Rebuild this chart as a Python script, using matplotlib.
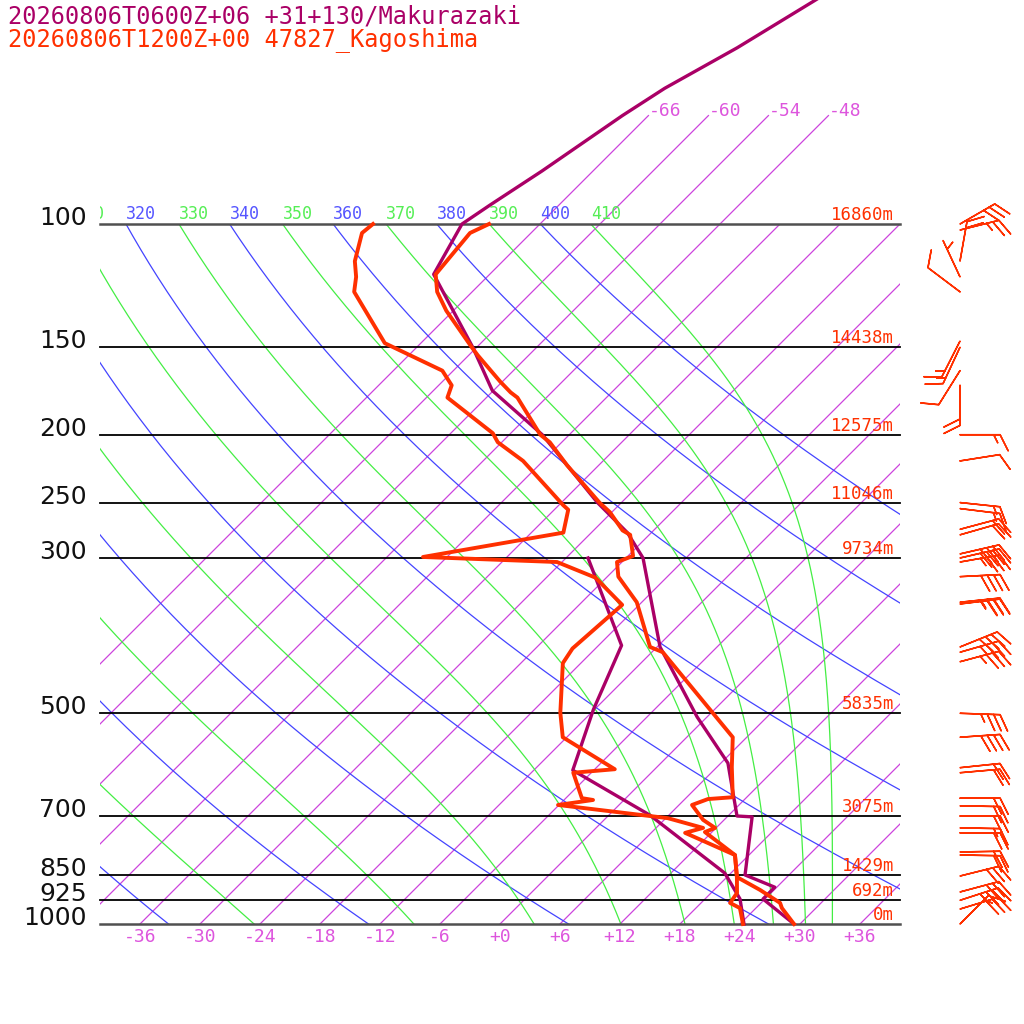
import numpy as np
import matplotlib
matplotlib.use("Agg")
import matplotlib.pyplot as plt
from matplotlib.transforms import Bbox, TransformedBbox

# ---------------- data ----------------
title_fcst = "20260806T0600Z+06 +31+130/Makurazaki"
title_obs = "20260806T1200Z+00 47827_Kagoshima"

isobar_levels = [100, 150, 200, 250, 300, 500, 700, 850, 925, 1000]
isobar_labels = ["100", "150", "200", "250", "300", "500", "700", "850", "925", "1000"]
isobar_heights = ["16860m", "14438m", "12575m", "11046m", "9734m",
                  "5835m", "3075m", "1429m", "692m", "0m"]
isotherm_values = list(range(-66, 37, 6))
isotherm_labeled = [-66, -60, -54, -48]
bottom_tick_temps = list(range(-36, 37, 6))
theta_values = [240, 260, 280, 300, 320, 340, 360, 380, 400]
thetae_values = [250, 270, 290, 310, 330, 350, 370, 390, 410]

# observed sounding (Kagoshima)
obs_t_p = [1000, 949, 933, 894, 857, 797, 739, 729, 710, 676, 663, 659, 597, 541,
           409, 402, 347, 319, 304, 298, 278, 274, 258, 250, 221, 205, 200, 177,
           174, 168, 154, 150, 133, 125, 118, 103, 100]
obs_t = [29.4, 26.6, 25.9, 22.6, 19.0, 16.6, 11.3, 11.9, 9.9, 7.3, 8.3, 10.6, 7.5, 4.6,
         -10.9, -12.7, -18.5, -22.9, -24.5, -23.5, -25.9, -27.1, -30.2, -32.2, -39.2,
         -43.2, -44.9, -50.9, -52.1, -54.2, -59.1, -60.5, -66.7, -69.5, -71.4, -72.1, -71.1]
obs_td_p = [1000, 949, 933, 903, 857, 797, 741, 729, 706, 676, 665, 661, 608, 601, 541,
            499, 424, 404, 350, 320, 304, 299, 276, 256, 252, 218, 205, 199, 177, 170,
            162, 148, 125, 119, 113, 103, 100]
obs_td = [24.3, 22.4, 20.9, 20.6, 19.0, 16.6, 9.4, 10.7, 6.2, -6.1, -3.1, -4.4, -7.8, -4.0,
          -12.4, -15.1, -19.8, -20.3, -19.7, -25.1, -30.5, -44.4, -32.8, -34.6, -35.6,
          -44.0, -48.4, -49.8, -57.9, -58.7, -61.1, -69.6, -77.8, -79.1, -80.8, -82.9, -82.7]

# forecast sounding (Makurazaki)
fcst_t_p = [1000, 921, 886, 851, 703, 701, 589, 506, 402, 300, 276, 250, 200, 173, 150,
            118, 100, 94, 84, 70, 64, 56, 48, 40]
fcst_t = [29.4, 23.8, 23.8, 19.6, 14.5, 12.9, 6.7, -1.0, -11.7, -22.3, -26.4, -32.4,
          -44.7, -54.1, -60.4, -71.6, -73.8, -72.9, -71.1, -68.6, -67.1, -63.9, -60.9, -57.5]
fcst_td_p = [1000, 921, 846, 699, 603, 494, 400, 300]
fcst_td = [24.4, 21.5, 17.4, 4.1, -8.1, -12.1, -15.7, -27.8]

# observed winds (pressure hPa, direction deg, speed kt)
wind_p = [100, 102, 113, 119, 125, 147, 150, 162, 170, 200, 218, 250, 255, 273, 278,
          296, 300, 304, 319, 347, 349, 402, 409, 422, 500, 541, 598, 608, 661, 678,
          701, 729, 741, 789, 797, 854, 900, 925, 952, 1000]
wind_dir = [60, 76, 10, 335, 307, 207, 205, 212, 180, 90, 81, 96, 97, 75, 74,
            77, 77, 80, 87, 84, 83, 68, 74, 75, 92, 86, 84, 85, 90, 91,
            90, 91, 90, 89, 91, 76, 75, 72, 73, 45]
wind_spd = [30, 25, 20, 5, 10, 15, 15, 10, 20, 15, 10, 15, 15, 20, 20,
            40, 40, 35, 40, 35, 35, 40, 35, 35, 35, 40, 20, 20, 20, 20,
            20, 15, 20, 20, 20, 30, 30, 35, 30, 15]

# ---------------- style ----------------
PURPLE = "#aa0066"
RED = "#ff3000"
ISO_T = "#cc44dd"
ISO_T_TXT = "#dd55dd"
BLUE = "#4444ff"
BLUE_TXT = "#5555ff"
GREEN = "#44ee44"
GREEN_TXT = "#55ee55"
MONO = "DejaVu Sans Mono"
PX = 0.72  # points per pixel at 100 dpi
SKEW = 70.0  # degC per decade of pressure


def skew_x(t, p):
    return np.asarray(t, float) + SKEW * np.log10(1000.0 / np.asarray(p, float))


def sat_thetae(T, p):
    with np.errstate(all="ignore"):
        es = 6.112 * np.exp(17.67 * (T - 273.15) / (T - 29.65))
        r = 622.0 * es / np.maximum(p - es, 0.01)
        r = np.minimum(r, 1e4)
        return T * (1000.0 / p) ** (0.2854 * (1 - 0.28e-3 * r)) * \
            np.exp(np.minimum((3.376 / T - 0.00254) * r * (1 + 0.81e-3 * r), 50))


def moist_T(thetae, p):
    p = np.asarray(p, float)
    lo = np.full_like(p, 120.0)
    hi = np.full_like(p, 330.0)
    for _ in range(60):
        mid = 0.5 * (lo + hi)
        f = sat_thetae(mid, p) - thetae
        hi = np.where(f > 0, mid, hi)
        lo = np.where(f > 0, lo, mid)
    return 0.5 * (lo + hi) - 273.15


fig = plt.figure(figsize=(10.24, 10.24), dpi=100)
ax = fig.add_axes([100 / 1024, 100 / 1024, 800 / 1024, 700 / 1024])
ax.set_yscale("log")
ax.set_xlim(-40, 40)
ax.set_ylim(1000, 100)
ax.axis("off")

pp = np.logspace(3, 2, 300)

# isotherms
for t in isotherm_values:
    ax.plot(skew_x(np.full_like(pp, t), pp), pp, color=ISO_T, lw=0.9, zorder=1)
for t in isotherm_labeled:
    pe = np.array([100.0, 70.0])
    ax.plot(skew_x([t, t], pe), pe, color=ISO_T, lw=0.9, clip_on=False, zorder=1)
    ax.annotate(f"-{abs(t)}" if t < 0 else f"+{t}",
                xy=(skew_x(t, 70.0), 70.0), xytext=(0, 0), textcoords="offset points",
                ha="left", va="baseline", fontsize=13, family=MONO, color=ISO_T_TXT,
                annotation_clip=False)

# dry adiabats
for th in theta_values:
    tt = th * (pp / 1000.0) ** 0.2857 - 273.15
    ax.plot(skew_x(tt, pp), pp, color=BLUE, lw=0.9, zorder=1)

# moist adiabats (saturated theta-e)
for th in thetae_values:
    tt = moist_T(th, pp)
    ax.plot(skew_x(tt, pp), pp, color=GREEN, lw=0.9, zorder=1)

# theta labels on top, clipped horizontally to the diagram
clipbox = TransformedBbox(Bbox([[100 / 1024, 0.0], [900 / 1024, 1.0]]), fig.transFigure)
labels = []
for th in theta_values:
    x100 = float(skew_x(th * 0.1 ** 0.2857 - 273.15, 100.0))
    labels.append((th, x100, BLUE_TXT))
for th in thetae_values:
    x100 = float(skew_x(moist_T(th, np.array([100.0]))[0], 100.0))
    labels.append((th, x100, GREEN_TXT))
for th, x100, col in labels:
    if x100 < -44.0:   # label would lie completely left of the diagram
        continue
    a = ax.annotate(str(th), xy=(x100, 100.0), xytext=(0, 5 * PX),
                    textcoords="offset points", ha="left", va="baseline",
                    fontsize=12, family=MONO, color=col, annotation_clip=False)
    a.set_clip_on(True)
    a.set_clip_box(clipbox)

# isobars
for p, lab, hgt in zip(isobar_levels, isobar_labels, isobar_heights):
    edge = p in (100, 1000)
    ax.plot([-40, 40], [p, p], color="#505050" if edge else "black",
            lw=1.8 if edge else 1.3, clip_on=False, zorder=3)
    ax.annotate(lab, xy=(-40, p), xytext=(-13 * PX, -1 * PX), textcoords="offset points",
                ha="right", va="baseline", fontsize=18, family="DejaVu Sans",
                color="#111111", annotation_clip=False)
    ax.annotate(hgt, xy=(40, p), xytext=(-6 * PX, 4 * PX), textcoords="offset points",
                ha="right", va="baseline", fontsize=12.5, family=MONO, color=RED,
                annotation_clip=False, zorder=5)

# bottom temperature labels
for t in bottom_tick_temps:
    ax.annotate(f"{t:+d}", xy=(t, 1000), xytext=(0, -13 * PX), textcoords="offset points",
                ha="center", va="center", fontsize=13, family=MONO, color=ISO_T_TXT,
                annotation_clip=False)

# profiles
ax.plot(skew_x(fcst_t, fcst_t_p), fcst_t_p, color=PURPLE, lw=2.4, clip_on=False, zorder=6)
ax.plot(skew_x(fcst_td, fcst_td_p), fcst_td_p, color=PURPLE, lw=2.4, clip_on=False, zorder=6)
ax.plot(skew_x(obs_t, obs_t_p), obs_t_p, color=RED, lw=2.8, clip_on=False, zorder=7)
ax.plot(skew_x(obs_td, obs_td_p), obs_td_p, color=RED, lw=2.8, clip_on=False, zorder=7)

# wind barbs
wd = np.radians(wind_dir)
ws = np.asarray(wind_spd, float)
u = -ws * np.sin(wd)
v = -ws * np.cos(wd)
ax.barbs(np.full(len(wind_p), 46.0), wind_p, u, v, length=7.6, color=RED,
         linewidth=1.1, clip_on=False, zorder=8,
         sizes=dict(spacing=0.16, height=0.4, width=0.4))

# titles
fig.text(8 / 1024, 1 - 23 / 1024, title_fcst, ha="left", va="baseline",
         fontsize=17, family=MONO, color=PURPLE)
fig.text(8 / 1024, 1 - 46.5 / 1024, title_obs, ha="left", va="baseline",
         fontsize=17, family=MONO, color=RED)

fig.savefig("out.png", dpi=100, facecolor="white")
